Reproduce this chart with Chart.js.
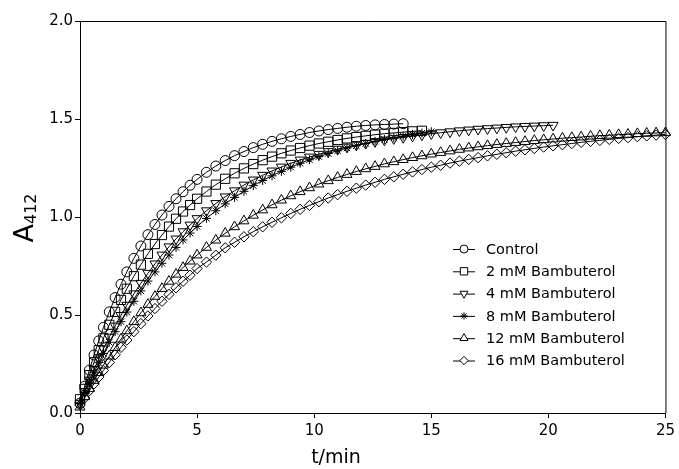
<!DOCTYPE html>
<html>
<head>
<meta charset="utf-8">
<script src="https://cdn.jsdelivr.net/npm/chart.js@4.4.1/dist/chart.umd.min.js"></script>
<style>
  html, body { margin: 0; padding: 0; background: #fff; }
  #wrap { width: 679px; height: 469px; }
</style>
</head>
<body>
<div id="wrap"><canvas id="kinetics" width="679" height="469"></canvas></div>
<script>
// time points (min)
const times = [0, 0.2, 0.4, 0.6, 0.8, 1.0, 1.25, 1.5, 1.75, 2.0, 2.3, 2.6, 2.9, 3.2, 3.5, 3.8, 4.1, 4.4, 4.7, 5.0, 5.4, 5.8,
    6.2, 6.6, 7.0, 7.4, 7.8, 8.2, 8.6, 9.0, 9.4, 9.8, 10.2, 10.6, 11.0, 11.4, 11.8, 12.2, 12.6, 13.0, 13.4, 13.8,
    14.2, 14.6, 15.0, 15.4, 15.8, 16.2, 16.6, 17.0, 17.4, 17.8, 18.2, 18.6, 19.0, 19.4, 19.8, 20.2,
    20.6, 21.0, 21.4, 21.8, 22.2, 22.6, 23.0, 23.4, 23.8, 24.2, 24.6, 25.0];

// A412 readings per series (same order as times, each series stops when its run ended)
const control = [0.05, 0.137, 0.219, 0.296, 0.368, 0.437, 0.516, 0.589, 0.657, 0.720, 0.789, 0.852, 0.910, 0.962, 1.010, 1.054, 1.093, 1.129, 1.162, 1.192, 1.228, 1.260,
    1.288, 1.313, 1.334, 1.354, 1.371, 1.386, 1.399, 1.411, 1.421, 1.431, 1.439, 1.446, 1.452, 1.458, 1.463, 1.467, 1.470, 1.472, 1.474, 1.476];
const bam2 = [0.07, 0.123, 0.193, 0.259, 0.321, 0.381, 0.450, 0.516, 0.577, 0.634, 0.698, 0.757, 0.812, 0.862, 0.908, 0.951, 0.991, 1.028, 1.061, 1.093, 1.130, 1.165,
    1.195, 1.223, 1.248, 1.270, 1.290, 1.308, 1.325, 1.339, 1.352, 1.364, 1.375, 1.384, 1.393, 1.401, 1.408, 1.414, 1.420, 1.425, 1.429, 1.433, 1.437, 1.440];
const bam4 = [0.05, 0.110, 0.168, 0.223, 0.276, 0.327, 0.387, 0.444, 0.498, 0.550, 0.608, 0.662, 0.713, 0.761, 0.806, 0.848, 0.888, 0.925, 0.959, 0.992, 1.032, 1.069,
    1.103, 1.134, 1.163, 1.189, 1.213, 1.235, 1.255, 1.274, 1.291, 1.306, 1.320, 1.334, 1.346, 1.357, 1.367, 1.376, 1.385, 1.393, 1.400, 1.406,
    1.413, 1.419, 1.425, 1.430, 1.435, 1.440, 1.444, 1.448, 1.451, 1.454, 1.457, 1.460, 1.462, 1.464, 1.466, 1.468];
const bam8 = [0.05, 0.105, 0.158, 0.208, 0.257, 0.304, 0.361, 0.415, 0.466, 0.515, 0.570, 0.623, 0.673, 0.720, 0.764, 0.806, 0.845, 0.883, 0.918, 0.952, 0.993, 1.032,
    1.067, 1.100, 1.131, 1.160, 1.186, 1.210, 1.233, 1.254, 1.274, 1.292, 1.308, 1.324, 1.338, 1.352, 1.364, 1.375, 1.386, 1.396, 1.405, 1.413,
    1.421, 1.428, 1.435];
const bam12 = [0.03, 0.083, 0.125, 0.166, 0.206, 0.244, 0.290, 0.334, 0.377, 0.419, 0.466, 0.511, 0.554, 0.595, 0.635, 0.672, 0.708, 0.742, 0.775, 0.806, 0.845, 0.882,
    0.917, 0.950, 0.980, 1.009, 1.036, 1.062, 1.086, 1.108, 1.129, 1.149, 1.168, 1.185, 1.202, 1.217, 1.232, 1.246, 1.258, 1.271, 1.282, 1.293,
    1.303, 1.312, 1.321, 1.329, 1.337, 1.345, 1.352, 1.358, 1.364, 1.370, 1.375, 1.380, 1.385, 1.390, 1.394, 1.398,
    1.402, 1.405, 1.408, 1.412, 1.415, 1.417, 1.420, 1.422, 1.425, 1.427, 1.429, 1.430];
const bam16 = [0.04, 0.077, 0.114, 0.149, 0.183, 0.217, 0.258, 0.297, 0.335, 0.372, 0.415, 0.456, 0.495, 0.533, 0.570, 0.605, 0.639, 0.672, 0.703, 0.737, 0.770, 0.805,
    0.843, 0.871, 0.899, 0.925, 0.950, 0.973, 0.996, 1.018, 1.039, 1.059, 1.078, 1.097, 1.114, 1.131, 1.147, 1.163, 1.177, 1.192, 1.205, 1.218,
    1.230, 1.242, 1.254, 1.264, 1.275, 1.285, 1.294, 1.303, 1.312, 1.320, 1.328, 1.336, 1.343, 1.350, 1.357, 1.363,
    1.369, 1.375, 1.381, 1.386, 1.391, 1.396, 1.401, 1.405, 1.410, 1.414, 1.418, 1.421];

const seriesNames = ['Control', '2 mM Bambuterol', '4 mM Bambuterol', '8 mM Bambuterol', '12 mM Bambuterol', '16 mM Bambuterol'];
const xTicks = [0, 5, 10, 15, 20, 25];
const yTicks = [0.0, 0.5, 1.0, 1.5, 2.0];

const FONT = "'DejaVu Sans', Verdana, sans-serif";

// marker look per series
const markers = [
    { style: 'circle', radius: 5, rotation: 0 },
    { style: 'rect', radius: 6.5, rotation: 0 },
    { style: 'triangle', radius: 5.8, rotation: 180 },
    { style: 'star', radius: 4.5, rotation: 0 },
    { style: 'triangle', radius: 5.8, rotation: 0 },
    { style: 'rectRot', radius: 5.2, rotation: 0 }
];

const allValues = [control, bam2, bam4, bam8, bam12, bam16];

function toPoints(values) {
    return values.map((v, i) => ({ x: times[i], y: v }));
}

const datasets = allValues.map((vals, i) => ({
    label: seriesNames[i],
    data: toPoints(vals),
    showLine: true,
    borderColor: '#000',
    borderWidth: 1,
    tension: 0,
    pointStyle: markers[i].style,
    pointRadius: markers[i].radius,
    pointRotation: markers[i].rotation,
    pointBorderColor: '#000',
    pointBackgroundColor: 'rgba(0,0,0,0)',
    pointBorderWidth: 1,
    clip: 6
}));

// box, axis titles and the legend drawn on top of the chart
const decorations = {
    id: 'decorations',
    afterDraw(chart) {
        const ctx = chart.ctx;
        const a = chart.chartArea;
        ctx.save();
        ctx.strokeStyle = '#000';
        ctx.lineWidth = 1;
        ctx.beginPath();
        ctx.moveTo(a.left, a.top + 0.5);
        ctx.lineTo(a.right + 0.5, a.top + 0.5);
        ctx.lineTo(a.right + 0.5, a.bottom);
        ctx.stroke();

        // x title
        ctx.fillStyle = '#000';
        ctx.font = '19px ' + FONT;
        ctx.textAlign = 'center';
        ctx.textBaseline = 'alphabetic';
        ctx.fillText('t/min', 336, 463);

        // y title A412, rotated
        ctx.save();
        ctx.translate(33, 218);
        ctx.rotate(-Math.PI / 2);
        ctx.textAlign = 'left';
        ctx.font = '27px ' + FONT;
        const wA = ctx.measureText('A').width;
        ctx.font = '16px ' + FONT;
        const wSub = ctx.measureText('412').width;
        const start = -(wA + wSub) / 2;
        ctx.font = '27px ' + FONT;
        ctx.fillText('A', start, 0);
        ctx.font = '16px ' + FONT;
        ctx.fillText('412', start + wA, 3);
        ctx.restore();

        // legend
        const lx = 453, tx = 486, y0 = 249, dy = 22.3;
        ctx.font = '14.5px ' + FONT;
        ctx.textBaseline = 'middle';
        ctx.textAlign = 'left';
        seriesNames.forEach((name, i) => {
            const y = y0 + i * dy;
            ctx.strokeStyle = '#000';
            ctx.beginPath();
            ctx.moveTo(lx, y + 0.5);
            ctx.lineTo(lx + 22, y + 0.5);
            ctx.stroke();
            const m = markers[i];
            ctx.fillStyle = '#fff';
            Chart.helpers.drawPoint(ctx, {
                pointStyle: m.style,
                radius: m.radius * 0.8,
                rotation: m.rotation,
                borderWidth: 1
            }, lx + 11, y);
            ctx.fillStyle = '#000';
            ctx.fillText(name, tx, y + 1);
        });
        ctx.restore();
    }
};

new Chart(document.getElementById('kinetics').getContext('2d'), {
    type: 'scatter',
    data: { datasets: datasets },
    options: {
        responsive: false,
        animation: false,
        layout: { padding: { left: 0, top: 21, right: 11, bottom: 0 } },
        plugins: { legend: { display: false }, tooltip: { enabled: false } },
        scales: {
            x: {
                type: 'linear',
                min: 0,
                max: 25,
                afterBuildTicks: s => { s.ticks = xTicks.map(v => ({ value: v })); },
                afterFit: s => { s.height = 56; },
                ticks: { color: '#000', font: { family: FONT, size: 15 }, padding: 4, maxRotation: 0 },
                grid: { display: true, drawOnChartArea: false, drawTicks: true, tickLength: 5, color: '#000' },
                border: { display: true, color: '#000', width: 1 }
            },
            y: {
                type: 'linear',
                min: 0,
                max: 2,
                afterBuildTicks: s => { s.ticks = yTicks.map(v => ({ value: v })); },
                afterFit: s => { s.width = 80; },
                ticks: { color: '#000', font: { family: FONT, size: 15 }, padding: 2, callback: v => v.toFixed(1) },
                grid: { display: true, drawOnChartArea: false, drawTicks: true, tickLength: 5, color: '#000' },
                border: { display: true, color: '#000', width: 1 }
            }
        }
    },
    plugins: [decorations]
});
</script>
</body>
</html>
